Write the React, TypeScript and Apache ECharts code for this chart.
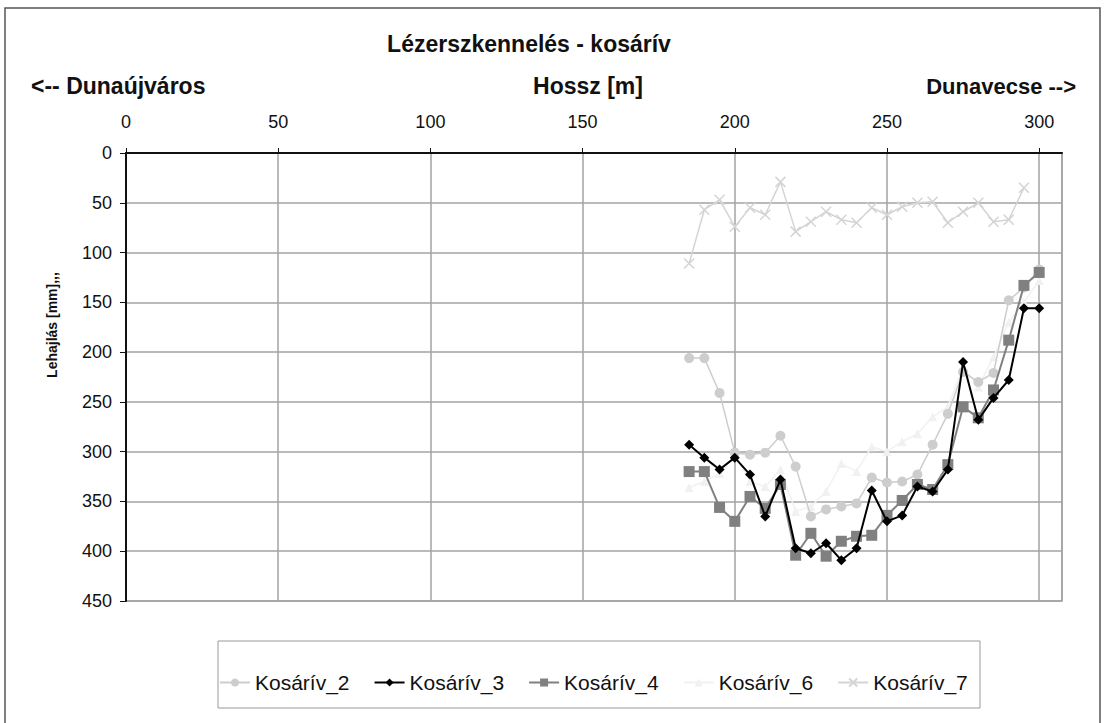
import React, { useEffect, useRef } from "react";
import * as echarts from "echarts";

const positions = [185, 190, 195, 200, 205, 210, 215, 220, 225, 230, 235, 240, 245, 250, 255, 260, 265, 270, 275, 280, 285, 290, 295, 300];
const kosariv2 = [206, 206, 241, 301, 303, 301, 284, 315, 365, 358, 355, 352, 326, 331, 330, 323, 293, 262, 220, 230, 221, 148, 135, 117];
const kosariv3 = [293, 306, 318, 306, 323, 365, 328, 397, 402, 392, 409, 397, 339, 370, 364, 335, 340, 318, 210, 268, 246, 228, 156, 156];
const kosariv4 = [320, 320, 356, 370, 345, 357, 333, 404, 382, 405, 390, 385, 384, 364, 349, 333, 338, 313, 255, 266, 238, 188, 133, 120];
const kosariv6 = [336, 330, 322, 303, 330, 335, 318, 360, 355, 340, 312, 320, 295, 300, 290, 282, 265, 255, 215, 235, 205, 170, 150, 128];
const kosariv7 = [111, 57, 47, 74, 55, 62, 29, 79, 69, 59, 67, 70, 55, 62, 54, 50, 49, 70, 59, 50, 69, 67, 35, null];

const seriesNames = ["Kosárív_2", "Kosárív_3", "Kosárív_4", "Kosárív_6", "Kosárív_7"];
const xTickLabels = ["0", "50", "100", "150", "200", "250", "300"];

const pairs = (vals: (number | null)[]) =>
  positions.map((x, i) => (vals[i] == null ? null : [x, vals[i]])).filter((p) => p !== null);

export default function App() {
  const ref = useRef<HTMLDivElement>(null);
  useEffect(() => {
    document.body.style.margin = "0";
    const chart = echarts.init(ref.current!, null, { renderer: "svg" });
    const font = "Arial, 'Liberation Sans', sans-serif";
    const bold = "bold 23px Arial, 'Liberation Sans', sans-serif";
    const grid = "#a3a3a3";
    chart.setOption({
      animation: false,
      backgroundColor: "#ffffff",
      textStyle: { fontFamily: font },
      graphic: [
        { type: "rect", shape: { x: 5, y: 8, width: 1095, height: 740 }, style: { fill: "none", stroke: "#555", lineWidth: 1.5 }, silent: true },
        { type: "rect", shape: { x: 218, y: 641, width: 762, height: 67 }, style: { fill: "none", stroke: "#999", lineWidth: 1 }, silent: true },
        { type: "text", x: 529, y: 44, style: { text: "Lézerszkennelés - kosárív", font: bold, fill: "#111", textAlign: "center", textVerticalAlign: "middle" } },
        { type: "text", x: 588, y: 86, style: { text: "Hossz [m]", font: bold, fill: "#111", textAlign: "center", textVerticalAlign: "middle" } },
        { type: "text", x: 31, y: 86, style: { text: "<-- Dunaújváros", font: bold, fill: "#111", textAlign: "left", textVerticalAlign: "middle" } },
        { type: "text", x: 1076, y: 86, style: { text: "Dunavecse -->", font: "bold 22px Arial, 'Liberation Sans', sans-serif", fill: "#111", textAlign: "right", textVerticalAlign: "middle" } },
        { type: "text", x: 52, y: 325, rotation: Math.PI / 2, style: { text: "Lehajlás [mm],,,", font: "bold 14px Arial, 'Liberation Sans', sans-serif", fill: "#111", textAlign: "center", textVerticalAlign: "middle" } },
      ],
      grid: { left: 126, right: 45, top: 153, bottom: 122, show: true, borderColor: grid, borderWidth: 1.5 },
      legend: {
        data: seriesNames,
        left: 219,
        top: 672,
        padding: 0,
        itemGap: 24,
        itemWidth: 30,
        itemHeight: 10,
        textStyle: { fontSize: 21, color: "#111", fontFamily: font },
      },
      xAxis: {
        type: "value",
        position: "top",
        min: 0,
        max: 307.5,
        interval: 50,
        axisLine: { show: true, onZero: false, lineStyle: { color: "#111", width: 2 } },
        axisTick: { show: true, inside: false, length: 5, lineStyle: { color: "#111" } },
        axisLabel: {
          fontSize: 18,
          color: "#111",
          margin: 22,
          showMaxLabel: false,
          formatter: (v: number) => xTickLabels[Math.round(v / 50)] ?? "",
        },
        splitLine: { show: true, lineStyle: { color: grid, width: 1.5 } },
      },
      yAxis: {
        type: "value",
        inverse: true,
        min: 0,
        max: 450,
        interval: 50,
        axisLine: { show: true, onZero: false, lineStyle: { color: "#111", width: 2 } },
        axisTick: { show: true, length: 6, lineStyle: { color: "#111" } },
        axisLabel: { fontSize: 18, color: "#111", margin: 14 },
        splitLine: { show: true, lineStyle: { color: grid, width: 1.5 } },
      },
      series: [
        {
          name: seriesNames[0], type: "line", data: pairs(kosariv2), symbol: "circle", symbolSize: 10,
          itemStyle: { color: "#cdcdcd" }, lineStyle: { color: "#cdcdcd", width: 1.5 }, z: 2,
        },
        {
          name: seriesNames[3], type: "line", data: pairs(kosariv6), symbol: "triangle", symbolSize: 9,
          itemStyle: { color: "#f1f1f1" }, lineStyle: { color: "#f1f1f1", width: 1.5 }, z: 1,
        },
        {
          name: seriesNames[4], type: "line", data: pairs(kosariv7), symbol: "path://M0,0L10,10M10,0L0,10", symbolSize: 10,
          itemStyle: { color: "#d4d4d4", borderColor: "#d4d4d4", borderWidth: 1.5 }, lineStyle: { color: "#d4d4d4", width: 1.5 }, z: 2,
        },
        {
          name: seriesNames[2], type: "line", data: pairs(kosariv4), symbol: "rect", symbolSize: 11,
          itemStyle: { color: "#808080" }, lineStyle: { color: "#808080", width: 2 }, z: 3,
        },
        {
          name: seriesNames[1], type: "line", data: pairs(kosariv3), symbol: "diamond", symbolSize: 10,
          itemStyle: { color: "#000" }, lineStyle: { color: "#000", width: 2 }, z: 4,
        },
      ],
    });
    return () => chart.dispose();
  }, []);
  return <div ref={ref} style={{ width: 1107, height: 723 }} />;
}
